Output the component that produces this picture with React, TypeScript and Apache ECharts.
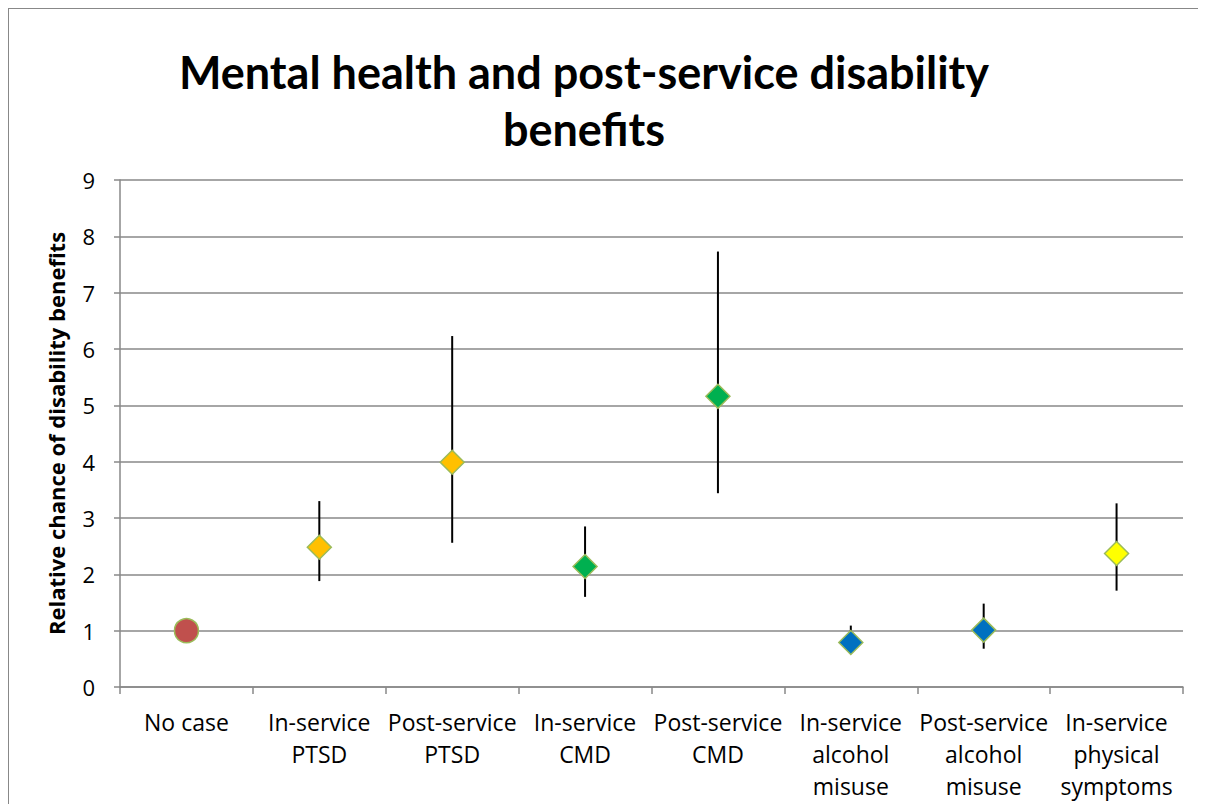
import React, { useEffect, useRef } from "react";
import * as echarts from "echarts";

const categories = [
  "No case",
  "In-service\nPTSD",
  "Post-service\nPTSD",
  "In-service\nCMD",
  "Post-service\nCMD",
  "In-service\nalcohol\nmisuse",
  "Post-service\nalcohol\nmisuse",
  "In-service\nphysical\nsymptoms",
];
const estimates = [1.0, 2.48, 3.99, 2.14, 5.16, 0.79, 1.01, 2.37];
const lowerCI = [null, 1.88, 2.56, 1.6, 3.44, 0.6, 0.68, 1.71];
const upperCI = [null, 3.3, 6.23, 2.85, 7.73, 1.09, 1.48, 3.26];
const yTicks = [0, 1, 2, 3, 4, 5, 6, 7, 8, 9];

const pointColors = ["#C0504D", "#FFC000", "#FFC000", "#00B050", "#00B050", "#0070C0", "#0070C0", "#FFFF00"];
const pointSymbols = ["circle", "diamond", "diamond", "diamond", "diamond", "diamond", "diamond", "diamond"];

const TITLE_FONT = "Lato, 'Open Sans', sans-serif";
const FONT = "'Open Sans', Lato, sans-serif";

export default function App() {
  const ref = useRef<HTMLDivElement>(null);
  useEffect(() => {
    if (!ref.current) return;
    const chart = echarts.init(ref.current, null, { renderer: "svg" });
    const errData = estimates.map((_, i) => [i, lowerCI[i], upperCI[i]]);
    chart.setOption({
      animation: false,
      backgroundColor: "#fff",
      textStyle: { fontFamily: FONT },
      graphic: [
        {
          type: "text",
          x: 575,
          y: 63,
          style: {
            text: "Mental health and post-service disability",
            font: `bold 45px ${TITLE_FONT}`,
            fill: "#000",
            textAlign: "center",
            textVerticalAlign: "middle",
          },
        },
        {
          type: "text",
          x: 575,
          y: 120,
          style: {
            text: "benefits",
            font: `bold 45px ${TITLE_FONT}`,
            fill: "#000",
            textAlign: "center",
            textVerticalAlign: "middle",
          },
        },
      ],
      grid: { left: 111, right: 15, top: 171, bottom: 117, containLabel: false },
      xAxis: {
        type: "category",
        data: categories,
        boundaryGap: true,
        axisLine: { show: true, lineStyle: { color: "#888", width: 1.5 } },
        axisTick: { show: true, alignWithLabel: false, length: 7, lineStyle: { color: "#888", width: 1.5 } },
        axisLabel: {
          color: "#000",
          fontSize: 23,
          fontFamily: FONT,
          lineHeight: 32,
          margin: 19,
          interval: 0,
          align: "center",
        },
        splitLine: { show: false },
      },
      yAxis: {
        type: "value",
        min: 0,
        max: 9,
        interval: 1,
        name: "Relative chance of disability benefits",
        nameLocation: "middle",
        nameGap: 53,
        nameTextStyle: { color: "#000", fontSize: 22, fontWeight: "bold", fontFamily: FONT },
        axisLine: { show: true, lineStyle: { color: "#888", width: 1.5 } },
        axisTick: { show: true, inside: false, length: 6, lineStyle: { color: "#888", width: 1.5 } },
        axisLabel: {
          color: "#000",
          fontSize: 22,
          fontFamily: FONT,
          margin: 25,
          formatter: (v: number) => (yTicks.includes(v) ? String(v) : ""),
        },
        splitLine: { show: true, lineStyle: { color: "#888", width: 1.5 } },
      },
      series: [
        {
          type: "custom",
          z: 2,
          data: errData,
          encode: { x: 0, y: [1, 2] },
          renderItem: (params: any, api: any) => {
            const lo = api.value(1);
            const hi = api.value(2);
            if (lo == null || hi == null || isNaN(lo) || isNaN(hi)) return null;
            const p1 = api.coord([api.value(0), lo]);
            const p2 = api.coord([api.value(0), hi]);
            return {
              type: "line",
              shape: { x1: p1[0], y1: p1[1], x2: p2[0], y2: p2[1] },
              style: { stroke: "#000", lineWidth: 2 },
            };
          },
        },
        {
          type: "scatter",
          z: 3,
          data: estimates.map((v, i) => ({
            value: v,
            symbol: pointSymbols[i],
            itemStyle: { color: pointColors[i], borderColor: "#9BBB59", borderWidth: 1.5, opacity: 1 },
          })),
          symbolSize: 24,
          itemStyle: { opacity: 1 },
          emphasis: { disabled: true },
        },
      ],
    });
    return () => chart.dispose();
  }, []);
  return (
    <div
      ref={ref}
      style={{
        width: 1190,
        height: 796,
        borderTop: "1.5px solid #888",
        borderLeft: "1.5px solid #888",
        boxSizing: "border-box",
      }}
    />
  );
}
